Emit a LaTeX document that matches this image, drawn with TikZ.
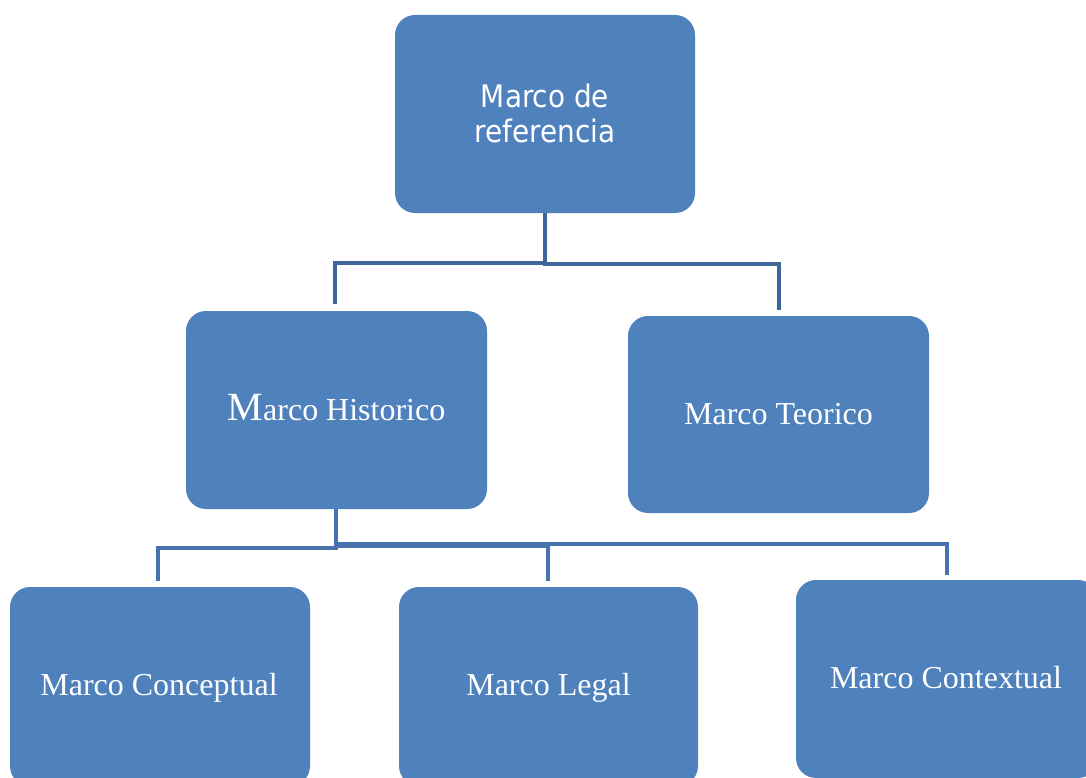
\documentclass[tikz,border=0pt]{standalone}
\usepackage{fontspec}
\setmainfont{Liberation Serif}
\newfontfamily\boxsans{DejaVu Sans Condensed}
\usetikzlibrary{calc}
\definecolor{boxblue}{HTML}{4F81BD}
\definecolor{linetop}{HTML}{3F6699}
\definecolor{linebot}{HTML}{4673AD}
\tikzset{
  mbox/.style={fill=boxblue, draw=none, rounded corners=20pt},
  lbl/.style={text=white, anchor=base, inner sep=0pt, font=\fontsize{32}{36}\selectfont},
  conn/.style={line width=4.5pt},
}
\begin{document}
\begin{tikzpicture}[x=1pt,y=-1pt]
\useasboundingbox (0,0) rectangle (1086,778);
% boxes
\path[mbox] (395,15) rectangle (695,213);
\node[text=white, align=center, anchor=base, inner sep=0pt, font=\boxsans\fontsize{31}{35}\selectfont] (top) at (545,143) {Marco de\\referencia};
\coordinate (topS) at (545,213);

\path[mbox] (186,311) rectangle (487,509);
\node[lbl] (hist) at (336.5,420) {{\fontsize{40}{40}\selectfont M}arco Historico};
\coordinate (histN) at (335,304);
\coordinate (histS) at (336,509);

\path[mbox] (628,316) rectangle (929,513);
\node[lbl] (teor) at (778.5,424) {Marco Teorico};
\coordinate (teorN) at (779,310);

\path[mbox] (10,587) rectangle (310,786);
\node[lbl] (conc) at (159,695) {Marco Conceptual};
\coordinate (concN) at (158,581);

\path[mbox] (399,587) rectangle (698,786);
\node[lbl] (legal) at (548.5,695) {Marco Legal};
\coordinate (legalN) at (548,581);

\path[mbox] (796,580) rectangle (1098,778);
\node[lbl] (cont) at (946,688) {Marco Contextual};
\coordinate (contN) at (947,575);

% connectors
\draw[conn, draw=linetop] (topS) -- (545,263) -| (histN);
\draw[conn, draw=linetop] (topS) -- (545,264) -| (teorN);
\draw[conn, draw=linebot] (histS) -- (336,548) -| (concN);
\draw[conn, draw=linebot] (histS) -- (336,546) -| (legalN);
\draw[conn, draw=linebot] (histS) -- (336,544) -| (contN);
\end{tikzpicture}
\end{document}
